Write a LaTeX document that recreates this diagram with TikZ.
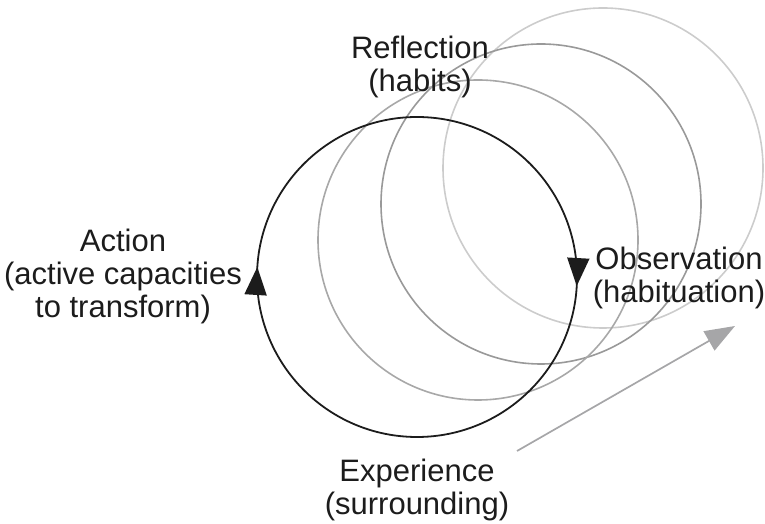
\documentclass[tikz,border=0pt]{standalone}
\usepackage{fontspec}
\setmainfont{Liberation Sans}
\usepackage{xcolor}
\definecolor{cdark}{rgb}{0.11,0.11,0.11}
\definecolor{ctrailA}{rgb}{0.66,0.66,0.66}
\definecolor{ctrailB}{rgb}{0.6,0.6,0.6}
\definecolor{ctrailC}{rgb}{0.8,0.8,0.8}
\definecolor{cdrift}{rgb}{0.65,0.65,0.66}
\usetikzlibrary{arrows.meta, decorations.markings}
\tikzset{
Stage/.style={
	align=center,
	anchor=base,
	inner sep=0pt,
	text=cdark,
	font=\fontsize{31}{33}\selectfont
},
Loop/.style={
	draw=cdark,
	line width=1.8pt
},
Turn/.style={
	postaction={decorate},
	decoration={markings,
		mark=at position 0.009 with {\arrow{Triangle[length=28pt, width=22pt]}},
		mark=at position 0.510 with {\arrow{Triangle[length=28pt, width=22pt]}}}
},
Trail/.style={
	line width=1.6pt
},
Drift/.style={
	draw=cdrift,
	line width=1.7pt,
	-{Triangle[length=30pt, width=22pt]}
}
}

\begin{document}
\begin{tikzpicture}[x=1pt, y=1pt]
	\useasboundingbox (0,0) rectangle (765,524);

	\coordinate (c0) at (417,247);
	\coordinate (c1) at (478,284);
	\coordinate (c2) at (541,320);
	\coordinate (c3) at (603,356);

	% later turns of the loop
	\draw[Trail, draw=ctrailC] (c3) circle[radius=160];
	\draw[Trail, draw=ctrailB] (c2) circle[radius=160];
	\draw[Trail, draw=ctrailA] (c1) circle[radius=160];

	% first turn
	\draw[Loop, Turn] (c0) ++(0:160) arc[start angle=0, end angle=-360, radius=160];

	\coordinate (from) at (517,73);
	\coordinate (to) at (735,198);
	\draw[Drift] (from) -- (to);

	% anchor base sits on the last line
	\node[Stage] (reflection) at (420,432) {Reflection\\(habits)};
	\node[Stage] (action) at (123,206) {Action\\(active capacities\\to transform)};
	\node[Stage] (observation) at (679,221) {Observation\\(habituation)};
	\node[Stage] (experience) at (417,9) {Experience\\(surrounding)};
\end{tikzpicture}
\end{document}
